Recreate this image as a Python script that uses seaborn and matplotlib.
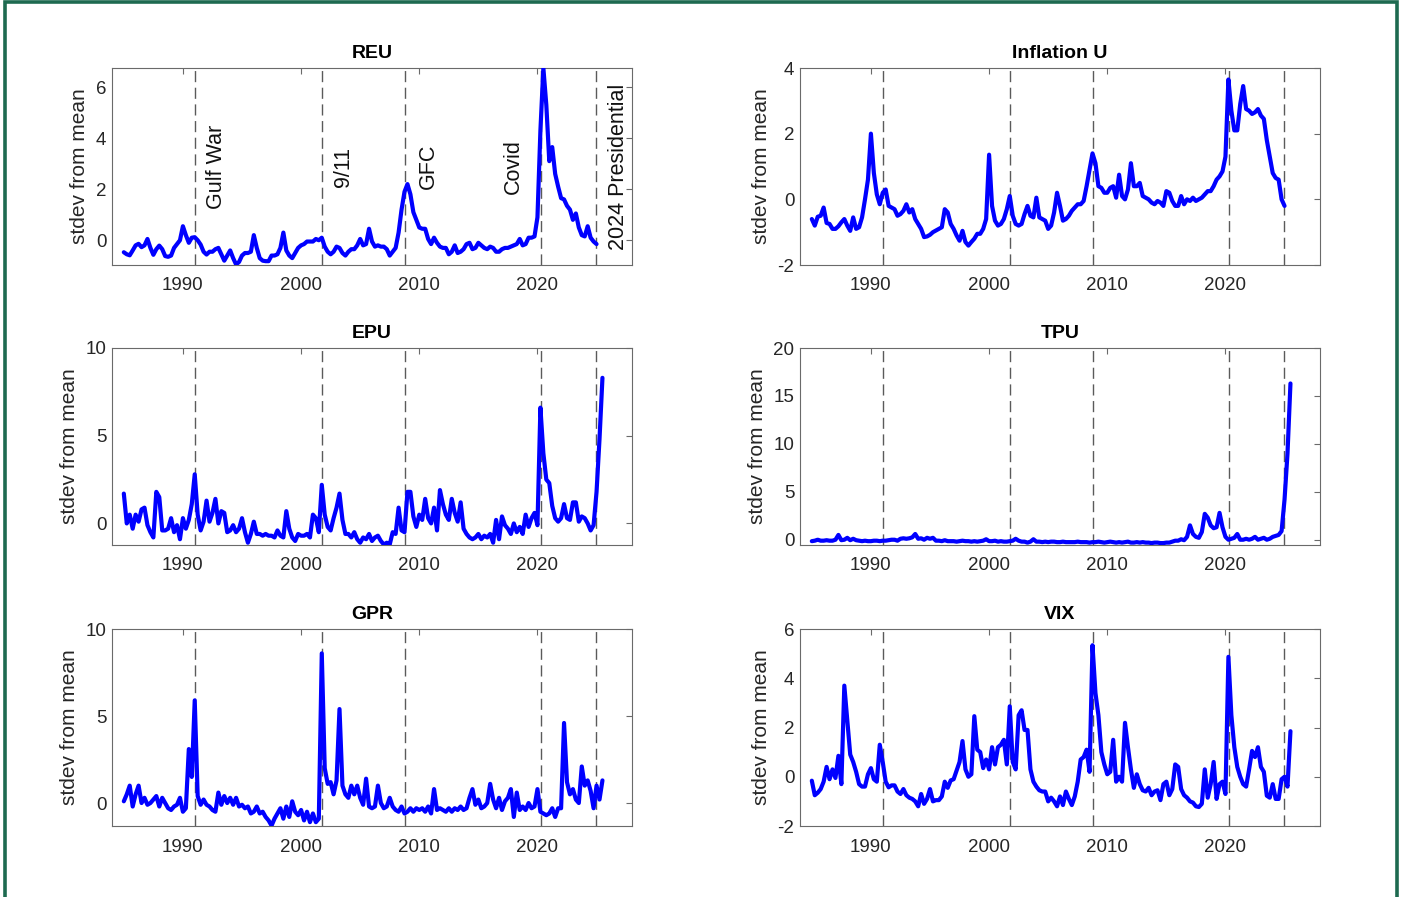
import numpy as np
import pandas as pd
import matplotlib
matplotlib.use('Agg')
import matplotlib.pyplot as plt
import seaborn as sns
from matplotlib.patches import Rectangle

# quarterly readings, first value = 1985Q1 (standard deviations from mean)
reu = [-0.47, -0.55, -0.59, -0.4,
       -0.2, -0.14, -0.27, -0.2,
       0.05, -0.3, -0.57, -0.35,
       -0.21, -0.35, -0.62, -0.65,
       -0.6, -0.3, -0.15, 0.0,
       0.55, 0.2, -0.1, 0.1,
       0.12, 0.0, -0.17, -0.45,
       -0.56, -0.45, -0.45, -0.35,
       -0.3, -0.55, -0.8, -0.6,
       -0.4, -0.7, -0.95, -0.85,
       -0.6, -0.5, -0.5, -0.45,
       0.2, -0.3, -0.7, -0.8,
       -0.82, -0.82, -0.6, -0.6,
       -0.55, -0.3, 0.3, -0.4,
       -0.6, -0.7, -0.5, -0.3,
       -0.2, -0.15, -0.05, -0.05,
       -0.05, 0.05, 0.0, 0.1,
       -0.25, -0.45, -0.55, -0.45,
       -0.25, -0.3, -0.5, -0.6,
       -0.45, -0.35, -0.35, -0.2,
       0.05, -0.2, -0.15, 0.45,
       -0.05, -0.25, -0.2, -0.25,
       -0.25, -0.35, -0.6, -0.45,
       -0.3, 0.3, 1.2, 1.9,
       2.2, 1.8, 1.1, 0.8,
       0.5, 0.45, 0.45, 0.05,
       -0.15, 0.1, -0.1, -0.25,
       -0.3, -0.3, -0.55, -0.45,
       -0.2, -0.5, -0.45, -0.35,
       -0.15, -0.1, -0.35, -0.3,
       -0.1, -0.2, -0.3, -0.35,
       -0.25, -0.3, -0.45, -0.45,
       -0.35, -0.3, -0.3, -0.25,
       -0.2, -0.15, 0.05, -0.2,
       -0.15, 0.1, 0.1, 0.15,
       0.9, 4.3, 6.75, 5.3,
       3.1, 3.65, 2.6, 2.1,
       1.65, 1.6, 1.35, 1.2,
       0.8, 1.05, 0.5, 0.2,
       0.15, 0.55, 0.1, -0.05,
       -0.15]

inflation_u = [-0.6, -0.8, -0.53, -0.5,
               -0.25, -0.72, -0.75, -0.9,
               -0.9, -0.82, -0.7, -0.6,
               -0.8, -0.96, -0.55, -0.9,
               -0.85, -0.55, 0.0, 0.6,
               2.0, 0.8, 0.15, -0.15,
               0.2, 0.3, -0.2, -0.25,
               -0.3, -0.5, -0.45, -0.35,
               -0.15, -0.4, -0.3, -0.6,
               -0.75, -0.9, -1.15, -1.13,
               -1.08, -1.0, -0.95, -0.9,
               -0.85, -0.3, -0.4, -0.75,
               -0.9, -1.1, -1.26, -0.96,
               -1.3, -1.41, -1.3, -1.2,
               -1.05, -1.05, -0.9, -0.6,
               1.36, -0.2, -0.65, -0.8,
               -0.75, -0.6, -0.3, 0.1,
               -0.5, -0.75, -0.8, -0.75,
               -0.45, -0.2, -0.5, -0.55,
               0.05, -0.55, -0.6, -0.65,
               -0.9, -0.8, -0.4, 0.2,
               -0.2, -0.65, -0.6, -0.5,
               -0.35, -0.25, -0.15, -0.15,
               -0.05, 0.4, 0.9, 1.4,
               1.1, 0.4, 0.35, 0.2,
               0.2, 0.35, 0.4, 0.05,
               0.75, 0.1, 0.0, 0.3,
               1.1, 0.4, 0.4, 0.5,
               0.1, 0.05, 0.0, -0.1,
               -0.15, -0.05, -0.1, -0.2,
               0.25, 0.2, -0.05, -0.2,
               -0.2, 0.1, -0.15, 0.0,
               -0.05, 0.05, -0.05, 0.0,
               0.05, 0.15, 0.25, 0.25,
               0.4, 0.6, 0.7, 0.85,
               1.3, 3.65, 2.7, 2.1,
               2.1, 2.9, 3.45, 2.75,
               2.7, 2.6, 2.65, 2.75,
               2.55, 2.45, 1.8, 1.3,
               0.8, 0.65, 0.6, 0.0,
               -0.2]

epu = [1.7, 0.0, 0.5, -0.3,
       0.5, 0.1, 0.8, 0.9,
       -0.1, -0.5, -0.8, 1.8,
       1.5, -0.4, -0.4, -0.3,
       0.3, -0.5, -0.1, -0.9,
       0.3, -0.3, 0.2, 1.1,
       2.8, 0.5, -0.4, 0.1,
       1.3, 0.1, 0.6, 1.4,
       0.0, 0.7, 0.6, -0.5,
       -0.4, -0.1, -0.5, -0.3,
       0.3, -0.5, -1.1, -0.6,
       0.1, -0.6, -0.6, -0.7,
       -0.6, -0.7, -0.7, -0.8,
       -0.4, -0.7, -0.8, 0.7,
       -0.3, -0.8, -1.0, -0.6,
       -0.7, -0.7, -0.6, -0.8,
       0.5, 0.3, -0.5, 2.2,
       0.5, -0.2, -0.4, 0.3,
       0.9, 1.7, 0.2, -0.6,
       -0.6, -0.8, -0.5, -0.9,
       -1.1, -0.8, -0.9, -0.6,
       -1.0, -0.8, -0.7, -1.0,
       -1.2, -1.1, -1.2, -0.5,
       -0.6, 0.9, -0.4, -0.5,
       1.8, 1.8, 0.4, -0.2,
       0.5, 0.2, 1.4, 0.3,
       0.0, 0.9, -0.4, 1.9,
       1.1, 0.5, 0.2, 1.4,
       0.6, 0.1, 1.2, -0.3,
       -0.6, -0.8, -0.9, -0.8,
       -0.6, -0.9, -0.7, -0.8,
       -0.6, -1.1, 0.2, -0.9,
       0.4, -0.1, -0.3, -0.6,
       0.0, -0.5, -0.2, -0.6,
       0.5, -0.2, 0.3, 0.6,
       -0.1, 6.6, 4.0, 2.5,
       2.3, 1.0, 0.3, 0.1,
       0.3, 1.1, 0.3, 0.2,
       1.2, 1.2, 0.1, 0.4,
       0.3, 0.0, -0.4, -0.1,
       1.8, 4.8, 8.3]

tpu = [-0.15, -0.1, 0.0, -0.1,
       -0.1, -0.05, -0.1, -0.1,
       0.0, 0.5, -0.05, 0.0,
       0.2, -0.05, 0.1, -0.05,
       -0.1, -0.15, -0.1, -0.15,
       -0.15, -0.1, -0.1, -0.15,
       -0.1, -0.1, -0.05, 0.0,
       0.0, -0.1, 0.1, 0.15,
       0.1, 0.15, 0.25, 0.6,
       0.1, 0.15, 0.0, 0.2,
       0.1, 0.2, -0.1, -0.1,
       -0.15, -0.05, -0.15, -0.15,
       -0.15, -0.2, -0.15, -0.1,
       -0.15, -0.15, -0.2, -0.15,
       -0.2, -0.15, -0.1, 0.05,
       -0.15, -0.15, -0.1, -0.2,
       -0.15, -0.2, -0.2, -0.15,
       -0.1, 0.1, -0.1, -0.2,
       -0.2, -0.3, -0.2, 0.05,
       -0.2, -0.2, -0.25, -0.2,
       -0.25, -0.2, -0.2, -0.25,
       -0.25, -0.2, -0.25, -0.25,
       -0.25, -0.25, -0.2, -0.25,
       -0.25, -0.25, -0.3, -0.25,
       -0.25, -0.2, -0.25, -0.3,
       -0.25, -0.2, -0.25, -0.3,
       -0.25, -0.3, -0.25, -0.2,
       -0.3, -0.3, -0.25, -0.3,
       -0.25, -0.3, -0.3, -0.35,
       -0.3, -0.3, -0.35, -0.35,
       -0.3, -0.3, -0.2, -0.1,
       -0.1, 0.05, -0.05, 0.3,
       1.5, 0.6, 0.3, 0.2,
       0.8, 2.7, 2.3, 1.5,
       1.2, 1.3, 2.8, 1.3,
       0.3, 0.0, 0.1, 0.2,
       0.6, 0.0, 0.0, 0.1,
       0.0, 0.1, 0.3, 0.0,
       0.1, 0.2, 0.0, 0.1,
       0.3, 0.4, 0.5, 0.9,
       4.2, 9.0, 16.3]

gpr = [0.1, 0.5, 1.0, -0.2,
       0.5, 1.0, 0.0, 0.3,
       -0.1, 0.0, 0.2, 0.4,
       -0.2, 0.3, 0.0, -0.3,
       -0.4, -0.2, -0.1, 0.3,
       -0.5, -0.3, 3.1, 1.5,
       5.9, 0.4, -0.1, 0.2,
       -0.1, -0.2, -0.4, -0.5,
       0.6, -0.1, 0.4, 0.0,
       0.3, -0.1, 0.3, -0.2,
       -0.1, -0.3, -0.2, -0.6,
       -0.5, -0.2, -0.6, -0.5,
       -0.8, -1.0, -1.3, -0.9,
       -0.6, -0.3, -0.9, -0.2,
       -0.8, 0.1, -0.5, -0.7,
       -0.4, -1.0, -0.5, -1.1,
       -0.6, -1.1, -0.9, 8.6,
       2.0, 1.1, 1.2, 0.5,
       1.3, 5.4, 1.0, 0.5,
       0.3, 1.0, 0.5, 1.0,
       0.3, -0.1, 1.4, -0.2,
       -0.3, -0.2, 1.0, 0.0,
       -0.3, -0.2, 0.3, -0.2,
       -0.4, -0.5, -0.2, -0.6,
       -0.5, -0.3, -0.5, -0.3,
       -0.4, -0.3, -0.5, -0.2,
       -0.6, 0.8, -0.4, -0.3,
       -0.4, -0.5, -0.3, -0.5,
       -0.3, -0.4, -0.2, -0.4,
       -0.3, 0.3, 0.8, -0.1,
       0.2, -0.3, -0.2, 0.0,
       1.1, 0.2, -0.3, 0.3,
       -0.4, 0.1, 0.3, 0.8,
       -0.8, 0.6, -0.4, -0.2,
       -0.4, 0.0, -0.3, -0.2,
       0.8, -0.5, -0.6, -0.7,
       -0.6, -0.3, -0.8, -0.3,
       -0.3, 4.6, 1.2, 0.5,
       0.8, 0.2, 0.0, 2.1,
       1.0, 1.3, 0.7, -0.3,
       1.0, 0.2, 1.3]

vix = [-0.16, -0.75, -0.65, -0.5,
       -0.2, 0.4, -0.1, 0.3,
       -0.05, 0.85, -0.3, 3.7,
       2.3, 0.9, 0.6, 0.2,
       -0.3, -0.4, -0.4, 0.1,
       0.35, -0.1, -0.2, 1.3,
       0.6, -0.2, -0.43, -0.35,
       -0.35, -0.6, -0.7, -0.5,
       -0.75, -0.85, -0.9, -1.0,
       -1.2, -0.7, -1.1, -0.9,
       -0.5, -1.0, -0.95, -0.95,
       -0.8, -0.2, -0.45, -0.15,
       -0.1, 0.25, 0.6, 1.45,
       0.3, 0.0, 0.1, 2.46,
       1.1, 1.0, 0.35, 0.7,
       0.3, 1.2, 0.5, 1.2,
       1.3, 1.5, 0.5, 2.86,
       0.6, 0.3, 2.5, 2.7,
       1.9, 1.9, 0.3, -0.2,
       -0.4, -0.55, -0.6, -0.6,
       -1.0, -0.85, -1.0, -1.2,
       -0.8, -1.15, -0.6, -0.9,
       -1.15, -0.8, -0.2, 0.7,
       0.8, 1.1, 0.2, 5.34,
       3.4, 2.5, 1.0, 0.5,
       0.1, 0.2, 1.5, -0.2,
       0.0, -0.2, 2.19, 1.2,
       0.3, -0.45, 0.1, -0.3,
       -0.55, -0.6, -0.45, -0.75,
       -0.6, -0.55, -0.95, -0.3,
       -0.2, -0.75, -0.5, 0.5,
       0.4, -0.5, -0.75, -0.85,
       -1.0, -1.05, -1.2, -1.23,
       -1.1, 0.3, -0.85, -0.3,
       0.6, -0.9, -0.3, -0.2,
       -0.7, 4.87, 2.5, 1.2,
       0.4, 0.0, -0.3, -0.4,
       0.3, 1.05, 0.8, 1.2,
       0.4, 0.2, -0.77, -0.85,
       -0.3, -0.9, -0.9, -0.1,
       0.0, -0.4, 1.85]

event_dates = [1991.0, 2001.75, 2008.8, 2020.3, 2024.95]
event_names = ['Gulf War', '9/11', 'GFC', 'Covid', '2024 Presidential']
event_text_x = [1991.95, 2002.7, 2009.85, 2017.05, 2025.95]

panels = [
    ('REU', reu, (-0.97, 6.75), [0, 2, 4, 6]),
    ('Inflation U', inflation_u, (-2, 4), [-2, 0, 2, 4]),
    ('EPU', epu, (-1.23, 10), [0, 5, 10]),
    ('TPU', tpu, (-0.55, 20), [0, 5, 10, 15, 20]),
    ('GPR', gpr, (-1.32, 10), [0, 5, 10]),
    ('VIX', vix, (-2, 6), [-2, 0, 2, 4, 6]),
]


def quarter_years(vals):
    dates = pd.date_range('1985-01-01', periods=len(vals), freq='QS')
    return dates.year + (dates.month - 1) / 12.0


sns.set_theme(style='white')
plt.rcParams['font.family'] = ['Liberation Sans', 'DejaVu Sans']
plt.rcParams['axes.unicode_minus'] = False

W, H = 1401, 897
fig = plt.figure(figsize=(W / 100, H / 100), dpi=100)
fig.patch.set_facecolor('white')

col_left = [112, 800]
col_width = 520
row_top = [68, 348, 629]
row_height = 197

for i, (title, vals, ylim, yticks) in enumerate(panels):
    r, c = divmod(i, 2)
    x0 = col_left[c] / W
    y0 = 1 - (row_top[r] + row_height) / H
    ax = fig.add_axes([x0, y0, col_width / W, row_height / H])

    for ev in event_dates:
        ax.axvline(ev, color='#5a5a5a', lw=1.0, ls=(0, (8, 4)), zorder=1)

    sns.lineplot(x=quarter_years(vals), y=vals, ax=ax, color='#0000ff',
                 linewidth=3.0, zorder=3)

    ax.set_xlim(1984, 2028)
    ax.set_ylim(*ylim)
    ax.set_xticks([1990, 2000, 2010, 2020])
    ax.set_yticks(yticks)
    ax.set_xlabel('')
    ax.set_ylabel('stdev from mean', fontsize=15, color='#262626', labelpad=5)
    ax.set_title(title, fontsize=14, fontweight='bold', color='black', pad=7)

    for sp in ax.spines.values():
        sp.set_color('#6a6a6a')
        sp.set_linewidth(0.8)
    ax.tick_params(direction='in', length=4, width=0.8, top=True, right=True,
                   colors='#6a6a6a', labelcolor='#262626', labelsize=13.5)
    ax.tick_params(axis='x', pad=9)
    ax.tick_params(axis='y', pad=4)
    ax.grid(False)

    if title == 'REU':
        for name, tx in zip(event_names, event_text_x):
            ax.text(tx, 2.88, name, rotation=90, ha='left', va='center',
                    fontsize=15.5, color='#111111')

# green frame around the figure
fig.add_artist(Rectangle((5 / W, -0.05), (1397 - 5) / W, 1.05 - 2 / H,
                         transform=fig.transFigure, fill=False,
                         edgecolor='#1e6a50', linewidth=2.6, clip_on=False))

fig.savefig('out.png', dpi=100, facecolor='white')
